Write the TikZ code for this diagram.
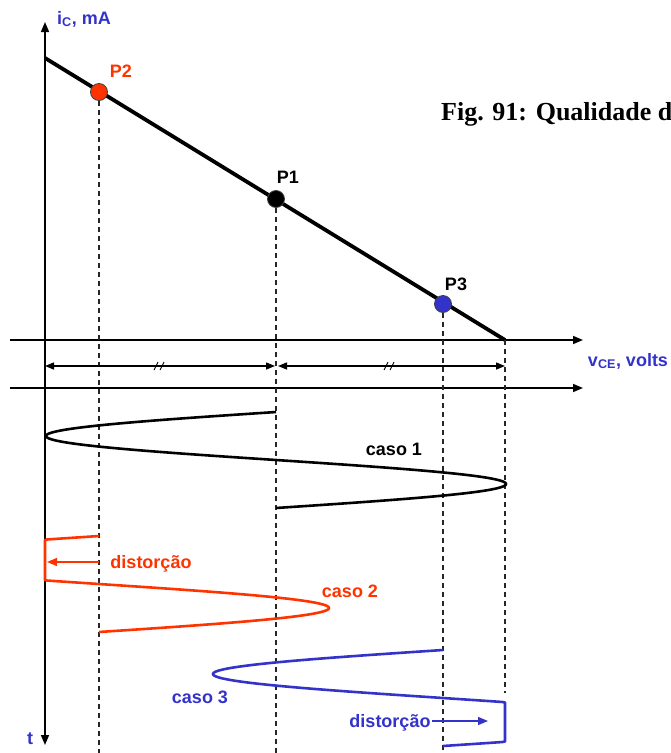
\documentclass[tikz,border=0pt]{standalone}
\usepackage{fontspec}
\setmainfont{Liberation Serif}
\newfontfamily\labfont{Liberation Sans}
\usetikzlibrary{arrows.meta}
\usetikzlibrary{positioning}
\definecolor{fg}{rgb}{0,0,0}
\definecolor{redc}{RGB}{255,51,0}
\definecolor{bluec}{RGB}{51,51,204}
\tikzstyle{axis}=[line width=1.5pt, -{Triangle[length=10pt,width=8pt]}]
\tikzstyle{guide}=[line width=1.2pt, dash pattern=on 5pt off 4pt, fg!85]
\tikzstyle{dot}=[circle, draw=fg!75, line width=0.8pt, minimum size=17pt, inner sep=0pt]
\tikzstyle{lab}=[font=\labfont\bfseries\fontsize{18}{20}\selectfont, inner sep=1pt]
\tikzstyle{wave}=[line width=2.6pt, line join=round]
\tikzstyle{myarrow}=[line width=1.4pt, -{Triangle[length=10pt,width=8pt]}]
\tikzstyle{dimarrow}=[line width=1.4pt, {Triangle[length=9pt,width=7pt]}-{Triangle[length=9pt,width=7pt]}]

\begin{document}
\begin{tikzpicture}[x=1pt, y=-1pt]
    \useasboundingbox (0,0) rectangle (671,753);

    % eixos
    \coordinate (ictop) at (45,22);
    \coordinate (tbot) at (45,745);
    \coordinate (ax1l) at (10,340);
    \coordinate (ax1r) at (583,340);
    \coordinate (ax2l) at (10,388);
    \coordinate (ax2r) at (583,388);
    \draw[axis, {Triangle[length=10pt,width=8pt]}-{Triangle[length=10pt,width=8pt]}] (tbot) -- (ictop);
    \draw[axis] (ax1l) -- (ax1r);
    \draw[axis] (ax2l) -- (ax2r);

    \node[lab, text=bluec] (ic) at (84,19) {i\textsubscript{C}, mA};
    \node[lab, text=bluec] (vce) at (628,361) {v\textsubscript{CE}, volts};
    \node[lab, text=bluec] (t) at (30,739) {t};

    % reta de carga
    \coordinate (icmax) at (45,58);
    \coordinate (vcemax) at (505,340);
    \draw[line width=3.8pt] (icmax) -- (vcemax);

    \node[dot, fill=redc] (P2) at (99,92) {};
    \node[dot, fill=fg] (P1) at (276,199) {};
    \node[dot, fill=bluec] (P3) at (443,304) {};
    \node[lab, text=redc, above=4pt of P2, xshift=22pt] (lP2) {P2};
    \node[lab, above=5pt of P1, xshift=12pt] (lP1) {P1};
    \node[lab, above=3pt of P3, xshift=13pt] (lP3) {P3};

    % linhas de chamada
    \coordinate (b2) at (99,753);
    \coordinate (b1) at (276,753);
    \coordinate (b3) at (443,750);
    \coordinate (b4) at (505,693);
    \draw[guide] (P2) -- (b2);
    \draw[guide] (P1) -- (b1);
    \draw[guide] (P3) -- (b3);
    \draw[guide] (vcemax) -- (b4);

    % cotas
    \coordinate (dA) at (45,366);
    \coordinate (dB) at (275,366);
    \coordinate (dC) at (278,366);
    \coordinate (dD) at (505,366);
    \draw[dimarrow] (dA) -- (dB);
    \draw[dimarrow] (dC) -- (dD);
    \foreach \m in {160,390} {
        \draw[line width=0.9pt] (\m-6,370) -- (\m-2,362);
        \draw[line width=0.9pt] (\m,370) -- (\m+4,362);
    }

    % caso 1
    \draw[wave] plot[domain=412:508, samples=193, variable=\t] ({276-230*sin(3.75*(\t-412))}, \t);
    \node[lab] (c1) at (394,449) {caso 1};

    % caso 2
    \draw[wave, redc] plot[domain=536:632, samples=193, variable=\t] ({max(45,99-230*sin(3.75*(\t-536)))}, \t);
    \node[lab, text=redc] (c2) at (350,591) {caso 2};
    \coordinate (d2a) at (99,562);
    \coordinate (d2b) at (47,562);
    \draw[myarrow, redc] (d2a) -- (d2b);
    \node[lab, text=redc] (dist2) at (151,564) {distorção};

    % caso 3
    \draw[wave, bluec] plot[domain=650:746, samples=193, variable=\t] ({min(505,443-230*sin(3.75*(\t-650)))}, \t);
    \node[lab, text=bluec] (c3) at (200,697) {caso 3};
    \node[lab, text=bluec] (dist3) at (390,723) {distorção};
    \coordinate (d3b) at (488,721);
    \draw[myarrow, bluec] (dist3.east |- d3b) -- (d3b);

    \node[anchor=base west, inner sep=0pt, font=\bfseries\fontsize{26}{30}\selectfont] (fig) at (441,120) {Fig. 91: Qualidade d};
\end{tikzpicture}
\end{document}
